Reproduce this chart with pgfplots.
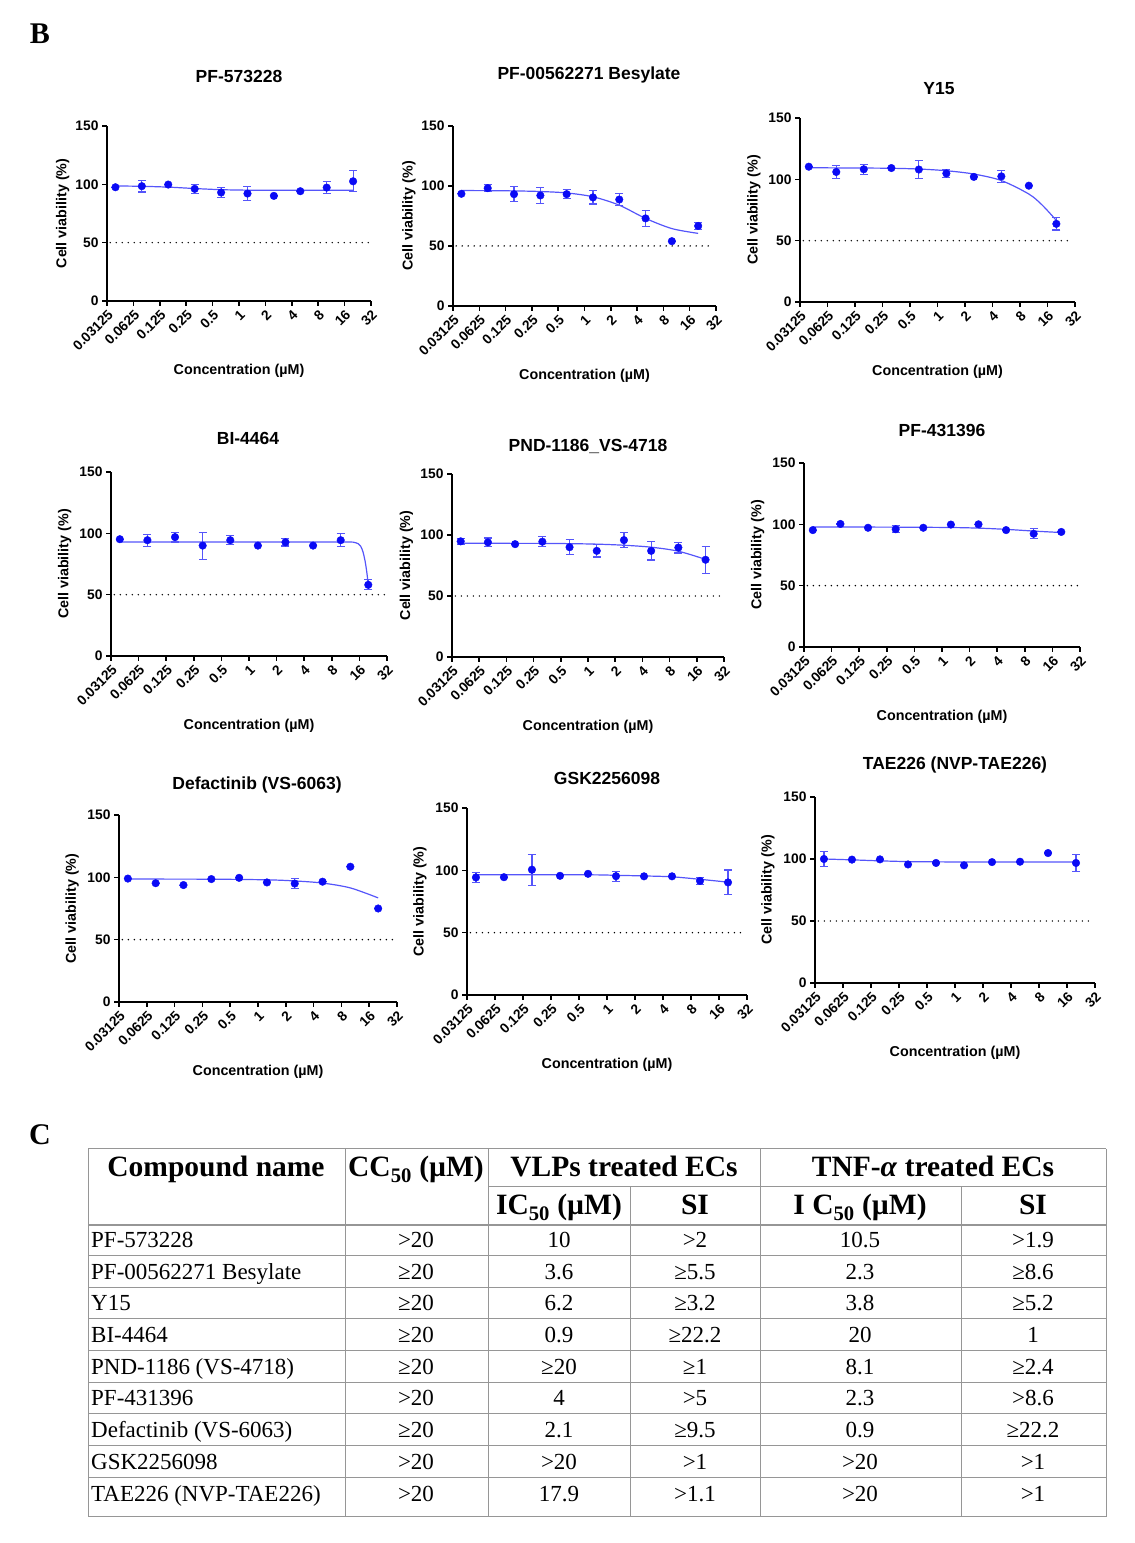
\documentclass[border=0pt]{standalone}
\usepackage{fontspec}
\setmainfont{Liberation Sans}
\newfontfamily\tnr{Liberation Serif}
\usepackage{pgfplots}
\pgfplotsset{compat=1.18}

\definecolor{mblue}{RGB}{10,10,245}
\definecolor{lblue}{RGB}{85,85,250}
\definecolor{tabrule}{RGB}{150,150,150}

\newcommand\tickf{\fontsize{13.8}{15}\selectfont\bfseries}
\newcommand\labf{\fontsize{14.3}{16}\selectfont\bfseries}
\newcommand\titf{\fontsize{17.5}{19}\selectfont\bfseries}

% options shared by the nine dose-response panels
\pgfplotsset{
  scale only axis,
  log basis x=2,
  xmin=0.03125, xmax=32, ymin=0, ymax=150,
  xtick={0.03125,0.0625,0.125,0.25,0.5,1,2,4,8,16,32},
  xticklabels={0.03125,0.0625,0.125,0.25,0.5,1,2,4,8,16,32},
  ytick={0,50,100,150},
  axis lines=left,
  axis line style={-, line width=1.8pt},
  tick align=outside, major tick length=5pt,
  tick style={black, line width=1.5pt},
  /pgf/number format/assume math mode=true,
  x tick label style={rotate=45, anchor=north east, inner sep=2pt, font=\tickf},
  y tick label style={font=\tickf},
  xlabel={Concentration (µM)},
  ylabel={Cell viability (\%)},
  xlabel style={at={(axis description cs:0.5,0)}, anchor=center, yshift=-70pt, font=\labf},
  ylabel style={at={(axis description cs:-0.168,0.5)}, anchor=center, font=\labf},
}
\pgfplotsset{
  fitc/.style={lblue, line width=1.2pt, smooth, no marks},
  half/.style={black, line width=1.6pt, line cap=round, dash pattern=on 0pt off 6pt, no marks},
  pts/.style={only marks, mark=*, mark size=3.8pt, mblue,
    error bars/y dir=both, error bars/y explicit,
    error bars/error bar style={lblue, line width=1.1pt},
    error bars/error mark options={rotate=90, lblue, mark size=4pt, line width=1.1pt}},
}

% one row of the table: baseline, then the six cells
\newcommand\trow[7]{%
  \node[anchor=base west] at (91pt,#1pt) {#2};
  \node[anchor=base] at (416pt,#1pt) {#3};
  \node[anchor=base] at (559pt,#1pt) {#4};
  \node[anchor=base] at (695pt,#1pt) {#5};
  \node[anchor=base] at (860pt,#1pt) {#6};
  \node[anchor=base] at (1033pt,#1pt) {#7};
}

\begin{document}
\begin{tikzpicture}
\path[use as bounding box] (0,0) rectangle (1135pt,1543pt);

\node[font=\tnr\bfseries\fontsize{30}{32}\selectfont] at (40pt,1509pt) {B};
\node[font=\tnr\bfseries\fontsize{30}{32}\selectfont] at (40pt,408pt) {C};

% titles
\begin{scope}[every node/.style={font=\titf}]
\node at (239pt,1466pt) {PF-573228};
\node at (589pt,1468pt) {PF-00562271 Besylate};
\node at (939pt,1454pt) {Y15};
\node at (248pt,1105pt) {BI-4464};
\node at (588pt,1097pt) {PND-1186\_VS-4718};
\node at (942pt,1113pt) {PF-431396};
\node at (257pt,758pt) {Defactinib (VS-6063)};
\node at (607pt,765pt) {GSK2256098};
\node at (955pt,778pt) {TAE226 (NVP-TAE226)};
\end{scope}

% PF-573228
\begin{axis}[xmode=log, log basis x=2, at={(107pt,1242pt)}, anchor=south west, width=264pt, height=175pt]
\addplot[fitc] coordinates {(0.039,98.6) (0.078,98.3) (0.156,97.6) (0.3125,96.4) (0.625,95.4) (1.25,95.0) (2.5,94.9) (5,94.9) (10,94.9) (20,94.9)};
\addplot[half] coordinates {(0.034,50) (30,50)};
\addplot[pts] table[x=x, y=y, y error=e, row sep=\\] {
x y e\\ 0.039 97.5 0\\ 0.078 98.4 5\\ 0.156 99.8 0\\ 0.3125 96.1 4\\ 0.625 93 4.3\\
1.25 92.1 5.7\\ 2.5 90.1 0\\ 5 94.1 0\\ 10 97.2 5\\ 20 102.6 9\\};
\end{axis}

% PF-00562271 Besylate
\begin{axis}[xmode=log, log basis x=2, at={(453pt,1237pt)}, anchor=south west, width=263pt, height=180pt]
\addplot[fitc] coordinates {(0.039,96.2) (0.078,96.1) (0.156,95.9) (0.3125,95.4) (0.625,94.2) (1.25,91) (2.5,84) (5,73) (10,64.5) (20,60.5)};
\addplot[half] coordinates {(0.034,50) (30,50)};
\addplot[pts] table[x=x, y=y, y error=e, row sep=\\] {
x y e\\ 0.039 93.5 0\\ 0.078 98.2 3\\ 0.156 93.2 6\\ 0.3125 92.1 7\\ 0.625 93.2 4\\
1.25 90.5 5.5\\ 2.5 88.7 5\\ 5 73 6.5\\ 10 54 0\\ 20 66.7 3\\};
\end{axis}

% Y15
\begin{axis}[xmode=log, log basis x=2, at={(800pt,1241pt)}, anchor=south west, width=275pt, height=184pt]
\addplot[fitc] coordinates {(0.039,109.5) (0.078,109.3) (0.156,109.2) (0.3125,109) (0.625,108.4) (1.25,107) (2.5,104.3) (5,99) (10,88) (14,79) (20,66.5)};
\addplot[half] coordinates {(0.034,50) (30,50)};
\addplot[pts] table[x=x, y=y, y error=e, row sep=\\] {
x y e\\ 0.039 110.3 0\\ 0.078 106 5\\ 0.156 108.2 4\\ 0.3125 109.2 0\\ 0.625 108 7\\
1.25 104.8 3\\ 2.5 102 0\\ 5 102.4 5\\ 10 94.8 0\\ 20 63.7 5\\};
\end{axis}

% BI-4464
\begin{axis}[xmode=log, log basis x=2, at={(111pt,887pt)}, anchor=south west, width=276pt, height=184pt]
\addplot[fitc, tension=0.4] coordinates {(0.039,93) (0.3125,93) (2.5,93) (12,92.9) (14,92.6) (15.5,91.6) (16.5,89.6) (17.5,85) (18.5,77) (19.3,68) (20,58)};
\addplot[half] coordinates {(0.034,50) (30,50)};
\addplot[pts] table[x=x, y=y, y error=e, row sep=\\] {
x y e\\ 0.039 95.2 0\\ 0.078 94.4 5\\ 0.156 96.9 4\\ 0.3125 90 11\\ 0.625 94.4 3.5\\
1.25 90 0\\ 2.5 92.7 3\\ 5 90 0\\ 10 94.4 5.5\\ 20 58 4\\};
\end{axis}

% PND-1186_VS-4718
\begin{axis}[xmode=log, log basis x=2, at={(452pt,886pt)}, anchor=south west, width=272pt, height=183pt]
\addplot[fitc] coordinates {(0.039,93.2) (0.3125,93.1) (0.625,92.9) (1.25,92.5) (2.5,91.6) (5,90) (10,86.7) (20,80)};
\addplot[half] coordinates {(0.034,50) (30,50)};
\addplot[pts] table[x=x, y=y, y error=e, row sep=\\] {
x y e\\ 0.039 94.8 2.5\\ 0.078 94 3.5\\ 0.156 92.5 0\\ 0.3125 94.5 4\\ 0.625 90 6\\
1.25 87 5\\ 2.5 95.8 6\\ 5 87 7.5\\ 10 89.7 4.5\\ 20 79.7 11\\};
\end{axis}

% PF-431396
\begin{axis}[xmode=log, log basis x=2, at={(804pt,896pt)}, anchor=south west, width=276pt, height=184pt]
\addplot[fitc] coordinates {(0.039,97.8) (0.3125,97.7) (1.25,97.4) (2.5,96.9) (5,95.9) (10,94.5) (20,93.3)};
\addplot[half] coordinates {(0.034,50) (30,50)};
\addplot[pts] table[x=x, y=y, y error=e, row sep=\\] {
x y e\\ 0.039 95.3 0\\ 0.078 100.3 0\\ 0.156 97.2 0\\ 0.3125 96 3\\ 0.625 97.2 0\\
1.25 99.8 0\\ 2.5 100 0\\ 5 95.3 0\\ 10 92.3 4\\ 20 93.8 0\\};
\end{axis}

% Defactinib (VS-6063)
\begin{axis}[xmode=log, log basis x=2, at={(119pt,541pt)}, anchor=south west, width=278pt, height=187pt]
\addplot[fitc] coordinates {(0.039,98.6) (0.3125,98.5) (1.25,98) (2.5,97.1) (5,95.4) (10,91.5) (20,83.5)};
\addplot[half] coordinates {(0.034,50) (30,50)};
\addplot[pts] table[x=x, y=y, y error=e, row sep=\\] {
x y e\\ 0.039 99 0\\ 0.078 95.3 0\\ 0.156 93.8 0\\ 0.3125 98.6 0\\ 0.625 99.6 0\\
1.25 95.9 0\\ 2.5 95 4\\ 5 96.5 0\\ 10 108.5 0\\ 20 75 0\\};
\end{axis}

% GSK2256098
\begin{axis}[xmode=log, log basis x=2, at={(467pt,548pt)}, anchor=south west, width=280pt, height=187pt]
\addplot[fitc] coordinates {(0.039,96.5) (0.625,96.4) (1.25,96) (2.5,95.5) (5,94.8) (10,92.8) (20,90.5)};
\addplot[half] coordinates {(0.034,50) (30,50)};
\addplot[pts] table[x=x, y=y, y error=e, row sep=\\] {
x y e\\ 0.039 94.3 4\\ 0.078 94.5 0\\ 0.156 100.5 12.5\\ 0.3125 95.6 0\\ 0.625 97.2 0\\
1.25 95.3 4\\ 2.5 95.2 0\\ 5 95.2 0\\ 10 91.5 3\\ 20 90.3 10\\};
\end{axis}

% TAE226 (NVP-TAE226)
\begin{axis}[xmode=log, log basis x=2, at={(815pt,560pt)}, anchor=south west, width=280pt, height=186pt]
\addplot[fitc] coordinates {(0.039,100) (0.078,99.3) (0.156,98.5) (0.3125,97.9) (0.625,97.7) (1.25,97.6) (5,97.6) (20,97.6)};
\addplot[half] coordinates {(0.034,50) (30,50)};
\addplot[pts] table[x=x, y=y, y error=e, row sep=\\] {
x y e\\ 0.039 100 6\\ 0.078 99.5 0\\ 0.156 99.7 0\\ 0.3125 95.6 0\\ 0.625 96.8 0\\
1.25 94.9 0\\ 2.5 97.5 0\\ 5 97.8 0\\ 10 104.8 0\\ 20 96.8 7\\};
\end{axis}

% table C: rules
\begin{scope}[tabrule, line width=1pt]
\draw (88pt,394pt) -- (1106pt,394pt);
\draw (488pt,356pt) -- (1106pt,356pt);
\draw[line width=1.6pt] (88pt,318pt) -- (1106pt,318pt);
\foreach \y in {287,255,224,192,160,129,97,65,26}
  \draw (88pt,\y pt) -- (1106pt,\y pt);
\foreach \x in {88,345,488,760,1106}
  \draw (\x pt,26pt) -- (\x pt,394pt);
\foreach \x in {630,961}
  \draw (\x pt,26pt) -- (\x pt,356pt);
\end{scope}

% table C: header
\begin{scope}[every node/.style={font=\tnr\bfseries\fontsize{29.5}{31}\selectfont, inner sep=0pt, anchor=base}]
\node at (216pt,366pt) {Compound name};
\node at (416pt,366pt) {CC\textsubscript{50} (µM)};
\node at (624pt,366pt) {VLPs treated ECs};
\node at (933pt,366pt) {TNF-\textit{α} treated ECs};
\node at (559pt,328pt) {IC\textsubscript{50} (µM)};
\node at (695pt,328pt) {SI};
\node at (860pt,328pt) {I C\textsubscript{50} (µM)};
\node at (1033pt,328pt) {SI};
\end{scope}

% table C: body
\begin{scope}[every node/.style={font=\tnr\fontsize{23}{25}\selectfont, inner sep=0pt}]
\trow{295}{PF-573228}{>20}{10}{>2}{10.5}{>1.9}
\trow{263}{PF-00562271 Besylate}{≥20}{3.6}{≥5.5}{2.3}{≥8.6}
\trow{232}{Y15}{≥20}{6.2}{≥3.2}{3.8}{≥5.2}
\trow{200}{BI-4464}{≥20}{0.9}{≥22.2}{20}{1}
\trow{168}{PND-1186 (VS-4718)}{≥20}{≥20}{≥1}{8.1}{≥2.4}
\trow{137}{PF-431396}{>20}{4}{>5}{2.3}{>8.6}
\trow{105}{Defactinib (VS-6063)}{≥20}{2.1}{≥9.5}{0.9}{≥22.2}
\trow{73}{GSK2256098}{>20}{>20}{>1}{>20}{>1}
\trow{41}{TAE226 (NVP-TAE226)}{>20}{17.9}{>1.1}{>20}{>1}
\end{scope}
\end{tikzpicture}
\end{document}
